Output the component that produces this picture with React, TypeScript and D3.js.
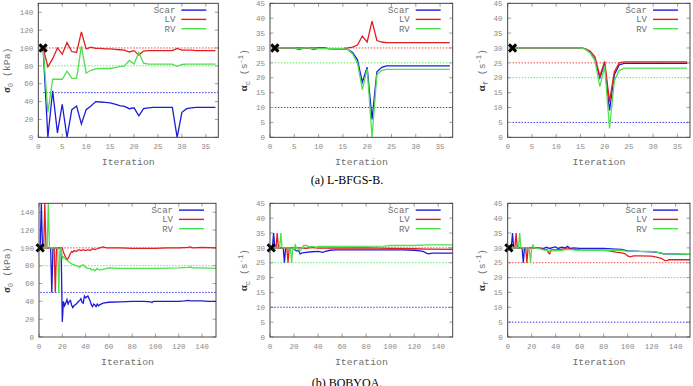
import React from "react";
import * as d3 from "d3";

type Pt = [number, number];

// ---------- L-BFGS-B run (values listed for iterations 1, 2, 3, ...) ----------
const lbfgsSigmaScar = [100, 0, 52, 5, 37, 0, 31, 35, 15, 31, 35, 40, 39.5, 39, 38.5, 37, 35.5, 34.5, 32, 33, 24, 32, 33, 33.5, 33.5, 33.5, 33.5, 33.5, 0, 28, 32, 33, 33.5, 33.5, 33.5, 33.5, 33.5];
const lbfgsSigmaLV = [100, 79, 88, 100, 93, 106, 96, 95, 118, 99, 101, 99.5, 99.5, 99, 99, 98.5, 98, 97.5, 95.5, 97, 92, 96.5, 97, 97, 97, 97, 97, 97, 99.5, 97.5, 97.5, 97.5, 97, 97, 97, 97, 97];
const lbfgsSigmaRV = [100, 28, 65, 65, 65, 74, 66, 66, 102, 72, 75, 76.5, 77, 77, 77, 78, 79, 80, 86, 82, 95, 83, 82, 82, 82, 82, 82, 82, 79.5, 81.5, 82, 82, 82, 82, 82, 82, 82];

const lbfgsAlphaCScar = [30, 30, 30, 30, 30, 29.5, 30, 30, 29.5, 30, 30, 29.8, 29.7, 29.7, 29.7, 29.5, 28.5, 26, 18.5, 23.5, 6, 22, 23.5, 24, 24, 24, 24, 24, 24, 24, 24, 24, 24, 24, 24, 24, 24];
const lbfgsAlphaCLV = [30, 30, 30, 30, 30, 30, 30, 30, 30, 30, 30, 29.8, 29.8, 29.8, 29.8, 30, 30.3, 31, 34, 32, 39, 32.5, 32, 31.8, 31.8, 31.8, 31.8, 31.8, 31.8, 31.8, 31.8, 31.8, 31.8, 31.8, 31.8, 31.8, 31.8];
const lbfgsAlphaCRV = [30, 30, 30, 30, 30, 29.6, 30, 30, 29.6, 29.8, 29.8, 29.8, 29.8, 29.8, 29.8, 29.5, 28, 25, 16, 23, 0, 21, 22.5, 22.8, 22.8, 22.8, 22.8, 22.8, 22.8, 22.8, 22.8, 22.8, 22.8, 22.8, 22.8, 22.8, 22.8];

const lbfgsAlphaFScar = [30, 30, 30, 30, 30, 30, 30, 30, 30, 30, 30, 30, 30, 30, 30, 29.7, 28.5, 26, 20, 24.5, 9, 21, 24.3, 24.8, 24.8, 24.8, 24.8, 24.8, 24.8, 24.8, 24.8, 24.8, 24.8, 24.8, 24.8, 24.8, 24.8];
const lbfgsAlphaFLV = [30, 30, 30, 30, 30, 30, 30, 30, 30, 30, 30, 30, 30, 30, 30, 29.8, 29, 27, 20.5, 25.5, 12, 22, 25, 25.3, 25.3, 25.3, 25.3, 25.3, 25.3, 25.3, 25.3, 25.3, 25.3, 25.3, 25.3, 25.3, 25.3];
const lbfgsAlphaFRV = [30, 30, 30, 30, 30, 30, 30, 30, 30, 30, 30, 30, 30, 30, 30, 29.6, 28.3, 25.8, 17, 24, 3, 19, 22.5, 23.2, 23.2, 23.2, 23.2, 23.2, 23.2, 23.2, 23.2, 23.2, 23.2, 23.2, 23.2, 23.2, 23.2];

// ---------- BOBYQA run ([iteration, value]) ----------
const bobyqaSigmaScar: Pt[] = [[1, 100], [2, 150], [3, 100], [10, 100], [11, 50], [12, 100], [19, 100], [20, 17], [21, 40], [22, 35], [23, 38], [24, 42], [25, 37], [26, 40], [27, 41], [28, 36], [29, 33], [30, 35], [32, 37], [34, 40], [35, 41], [36, 43], [37, 39], [38, 38], [39, 46], [40, 44], [41, 45], [42, 46], [43, 43], [44, 40], [45, 36], [46, 34], [47, 37], [48, 36], [49, 34], [50, 37], [51, 35], [52, 36], [55, 38], [60, 39], [70, 39.5], [80, 40], [90, 40], [96, 39.5], [97, 38.5], [98, 40], [110, 40], [120, 40], [125, 40.5], [128, 41], [130, 40.5], [140, 40.5], [145, 40], [152, 40]];
const bobyqaSigmaLV: Pt[] = [[1, 100], [4, 100], [5, 150], [6, 100], [13, 100], [14, 50], [15, 100], [20, 100], [21, 95], [22, 92], [23, 89], [24, 87], [25, 88], [26, 91], [27, 94], [28, 96], [29, 95], [30, 97], [32, 96], [34, 98], [36, 97], [38, 98], [40, 97], [42, 98], [44, 97], [46, 99], [48, 98], [50, 99], [52, 100], [55, 101], [58, 100], [70, 100], [80, 99.5], [100, 99.5], [110, 100], [120, 100], [128, 100.5], [130, 101], [132, 100], [140, 100.5], [152, 100]];
const bobyqaSigmaRV: Pt[] = [[1, 100], [7, 100], [8, 150], [9, 100], [16, 100], [17, 50], [18, 100], [19, 100], [20, 88], [21, 90], [22, 89], [23, 87], [24, 86], [26, 84], [28, 82], [30, 81], [32, 80], [34, 79], [35, 78], [36, 80], [38, 81], [40, 78], [42, 77], [44, 77], [45, 75], [47, 76], [48, 74], [50, 77], [52, 75], [55, 76], [60, 77.5], [70, 77], [100, 77], [120, 77.5], [128, 78], [130, 78.5], [132, 77.5], [140, 77.5], [152, 77]];

const bobyqaAlphaCScar: Pt[] = [[1, 30], [2, 30], [3, 35], [4, 30], [11, 30], [12, 25], [13, 30], [19, 30], [20, 29.5], [22, 29], [24, 29], [25, 28], [27, 28.3], [30, 28.5], [35, 28.7], [40, 28.8], [44, 28.5], [46, 28.8], [50, 29.2], [55, 29.3], [110, 29.3], [120, 29.2], [125, 29], [128, 28.7], [130, 28.2], [132, 28], [135, 28.2], [152, 28.2]];
const bobyqaAlphaCLV: Pt[] = [[1, 30], [5, 30], [6, 35], [7, 30], [14, 30], [15, 25], [16, 30], [25, 30], [30, 29.8], [35, 30.2], [40, 29.9], [80, 30], [100, 29.8], [120, 29.7], [130, 29.6], [152, 29.5]];
const bobyqaAlphaCRV: Pt[] = [[1, 30], [8, 30], [9, 35], [10, 30], [17, 30], [18, 25], [19, 30], [20, 29.5], [21, 31], [22, 30], [24, 29.5], [25, 29], [26, 29.5], [28, 30.8], [30, 30.8], [33, 30.3], [36, 30.5], [38, 30.2], [40, 30.5], [95, 30.6], [100, 30.8], [120, 30.8], [130, 31], [152, 31]];

const bobyqaAlphaFScar: Pt[] = [[1, 30], [3, 30], [4, 35], [5, 30], [12, 30], [13, 25], [14, 30], [25, 30], [30, 29.8], [32, 30.2], [35, 29.8], [38, 30.2], [40, 30.3], [42, 29.8], [45, 30.2], [48, 30], [50, 30.5], [52, 29.8], [55, 30], [60, 29.8], [80, 29.8], [90, 29.6], [95, 29.5], [100, 29], [110, 28.8], [120, 28.7], [125, 28.5], [130, 28], [135, 28], [152, 27.8]];
const bobyqaAlphaFLV: Pt[] = [[1, 30], [6, 30], [7, 35], [8, 30], [15, 30], [16, 25], [17, 30], [25, 30], [30, 29.5], [33, 29.3], [34, 28.3], [35, 28], [36, 29.3], [40, 29.3], [45, 29.5], [48, 29.8], [50, 30], [52, 29.5], [55, 29.5], [60, 29.3], [80, 29.2], [85, 29], [90, 28.6], [95, 28.3], [98, 28], [100, 27.3], [102, 27], [105, 27.3], [110, 27.3], [120, 27.2], [125, 26.8], [128, 26.5], [130, 26], [131, 25.7], [133, 25.8], [135, 26], [152, 26]];
const bobyqaAlphaFRV: Pt[] = [[1, 30], [9, 30], [10, 35], [11, 30], [18, 30], [19, 25], [20, 30], [21, 31], [22, 30], [25, 29.8], [30, 29.3], [35, 29], [40, 29], [45, 29.2], [50, 29.5], [55, 29.3], [60, 29.2], [95, 29.2], [100, 28.8], [120, 28.8], [128, 28.3], [130, 28], [135, 28], [152, 27.8]];

// Reference (true) parameter values per region: [Scar, LV, RV]
const sigmaTargets = [50, 100, 80];
const alphaCTargets = [10, 30, 25];
const alphaFTargets = [5, 25, 20];

const seriesNames = ["Scar", "LV", "RV"];
const sigmaTicks = [0, 20, 40, 60, 80, 100, 120, 140];
const alphaTicks = [0, 5, 10, 15, 20, 25, 30, 35, 40, 45];
const lbfgsIterTicks = [0, 5, 10, 15, 20, 25, 30, 35];
const bobyqaIterTicks = [0, 20, 40, 60, 80, 100, 120, 140];
const captions = ["(a) L-BFGS-B.", "(b) BOBYQA."];

const indexed = (vals: number[]): Pt[] => vals.map((v, i) => [i + 1, v] as Pt);

const MONO = "'Liberation Mono', 'DejaVu Sans Mono', monospace";
const SERIF = "'Liberation Serif', 'DejaVu Serif', serif";
const GRAY = "#8a8a8a";
const LABEL = "#707070";
const LINE_COLORS = ["#1c1cd8", "#e02020", "#4ee04e"];
const DOT_COLORS = ["#3c3cf0", "#f04848", "#60ea60"];

type Box = { left: number; right: number; top: number; bottom: number };

type PanelProps = {
  id: string;
  box: Box;
  xMax: number;
  yMax: number;
  xTicks: number[];
  yTicks: number[];
  series: Pt[][];
  targets: number[];
  marker: Pt;
  labelX: number;
  yLabel: React.ReactNode;
};

function Panel({ id, box, xMax, yMax, xTicks, yTicks, series, targets, marker, labelX, yLabel }: PanelProps) {
  const x = d3.scaleLinear().domain([0, xMax]).range([box.left, box.right]);
  const y = d3.scaleLinear().domain([0, yMax]).range([box.bottom, box.top]);
  const line = d3.line<Pt>().x((d) => x(d[0])).y((d) => y(d[1]));
  const tk = 3.5;
  const midY = (box.top + box.bottom) / 2;
  const m = 3.6;
  return (
    <g>
      <defs>
        <clipPath id={id}>
          <rect x={box.left} y={box.top} width={box.right - box.left} height={box.bottom - box.top} />
        </clipPath>
      </defs>
      {/* ticks, inward on all sides */}
      {xTicks.map((t) => (
        <g key={"x" + t}>
          <line x1={x(t)} x2={x(t)} y1={box.bottom} y2={box.bottom - tk} stroke={GRAY} strokeWidth={0.8} />
          <line x1={x(t)} x2={x(t)} y1={box.top} y2={box.top + tk} stroke={GRAY} strokeWidth={0.8} />
          <text x={x(t)} y={box.bottom + 11.5} textAnchor="middle" fontFamily={MONO} fontSize={7.6} fill={GRAY}>
            {t}
          </text>
        </g>
      ))}
      {yTicks.map((t) => (
        <g key={"y" + t}>
          <line x1={box.left} x2={box.left + tk} y1={y(t)} y2={y(t)} stroke={GRAY} strokeWidth={0.8} />
          <line x1={box.right} x2={box.right - tk} y1={y(t)} y2={y(t)} stroke={GRAY} strokeWidth={0.8} />
          <text x={box.left - 5} y={y(t) + 2.7} textAnchor="end" fontFamily={MONO} fontSize={7.6} fill={GRAY}>
            {t}
          </text>
        </g>
      ))}
      {/* target values */}
      <g clipPath={`url(#${id})`}>
        {targets.map((t, i) => (
          <line key={"t" + i} x1={x(1)} x2={box.right} y1={y(t)} y2={y(t)} stroke={DOT_COLORS[i]} strokeWidth={1} strokeDasharray="1.5,1.5" />
        ))}
        {series.map((s, i) => (
          <path key={"s" + i} d={line(s) || ""} fill="none" stroke={LINE_COLORS[i]} strokeWidth={1.3} strokeLinejoin="miter" />
        ))}
      </g>
      {/* starting point */}
      <g stroke="#000" strokeWidth={3} strokeLinecap="butt">
        <line x1={x(marker[0]) - m} y1={y(marker[1]) - m} x2={x(marker[0]) + m} y2={y(marker[1]) + m} />
        <line x1={x(marker[0]) - m} y1={y(marker[1]) + m} x2={x(marker[0]) + m} y2={y(marker[1]) - m} />
      </g>
      <rect x={box.left} y={box.top} width={box.right - box.left} height={box.bottom - box.top} fill="none" stroke="#333" strokeWidth={0.9} />
      {/* legend */}
      {seriesNames.map((n, i) => {
        const ly = box.top + 6.8 + i * 9.3;
        return (
          <g key={n}>
            <text x={box.right - 43} y={ly + 3} textAnchor="end" fontFamily={MONO} fontSize={9} fill={LABEL}>
              {n}
            </text>
            <line x1={box.right - 37} x2={box.right - 12} y1={ly} y2={ly} stroke={LINE_COLORS[i]} strokeWidth={1.4} />
          </g>
        );
      })}
      <text x={(box.left + box.right) / 2} y={box.bottom + 28} textAnchor="middle" fontFamily={MONO} fontSize={9.8} fill={LABEL}>
        Iteration
      </text>
      <text transform={`translate(${labelX},${midY}) rotate(-90)`} textAnchor="middle" fontFamily={MONO} fontSize={9.8} fill={LABEL}>
        {yLabel}
      </text>
    </g>
  );
}

const sigmaLabel = (
  <>
    <tspan fontFamily={SERIF} fontWeight="bold" fontSize={11} fill="#333">σ</tspan>
    <tspan fontSize={7} dy={2.5}>0</tspan>
    <tspan dy={-2.5}> (kPa)</tspan>
  </>
);
const alphaLabel = (sub: string) => (
  <>
    <tspan fontFamily={SERIF} fontWeight="bold" fontSize={11} fill="#333">α</tspan>
    <tspan fontSize={7} dy={2.5}>{sub}</tspan>
    <tspan dy={-2.5}> (s</tspan>
    <tspan fontSize={7} dy={-4}>-1</tspan>
    <tspan dy={4}>)</tspan>
  </>
);

export default function App() {
  const topBox = (l: number, r: number): Box => ({ left: l, right: r, top: 3.3, bottom: 137.3 });
  const botBox = (l: number, r: number): Box => ({ left: l, right: r, top: 203.3, bottom: 337 });
  const lbX = 37.6;
  const bbX = 152;
  return (
    <svg width={693} height={386} style={{ position: "absolute", left: 0, top: 0, background: "#fff" }}>
      <rect width={693} height={386} fill="#fff" />
      <Panel id="c1" box={topBox(38.3, 218.3)} xMax={lbX} yMax={150} xTicks={lbfgsIterTicks} yTicks={sigmaTicks}
        series={[indexed(lbfgsSigmaScar), indexed(lbfgsSigmaLV), indexed(lbfgsSigmaRV)]} targets={sigmaTargets}
        marker={[1, 100]} labelX={10} yLabel={sigmaLabel} />
      <Panel id="c2" box={topBox(270, 452.7)} xMax={lbX} yMax={45} xTicks={lbfgsIterTicks} yTicks={alphaTicks}
        series={[indexed(lbfgsAlphaCScar), indexed(lbfgsAlphaCLV), indexed(lbfgsAlphaCRV)]} targets={alphaCTargets}
        marker={[1, 30]} labelX={247} yLabel={alphaLabel("c")} />
      <Panel id="c3" box={topBox(507.7, 690)} xMax={lbX} yMax={45} xTicks={lbfgsIterTicks} yTicks={alphaTicks}
        series={[indexed(lbfgsAlphaFScar), indexed(lbfgsAlphaFLV), indexed(lbfgsAlphaFRV)]} targets={alphaFTargets}
        marker={[1, 30]} labelX={485} yLabel={alphaLabel("f")} />
      <Panel id="c4" box={botBox(39, 216)} xMax={bbX} yMax={150} xTicks={bobyqaIterTicks} yTicks={sigmaTicks}
        series={[bobyqaSigmaScar, bobyqaSigmaLV, bobyqaSigmaRV]} targets={sigmaTargets}
        marker={[1, 100]} labelX={10} yLabel={sigmaLabel} />
      <Panel id="c5" box={botBox(270, 452.7)} xMax={bbX} yMax={45} xTicks={bobyqaIterTicks} yTicks={alphaTicks}
        series={[bobyqaAlphaCScar, bobyqaAlphaCLV, bobyqaAlphaCRV]} targets={alphaCTargets}
        marker={[1, 30]} labelX={247} yLabel={alphaLabel("c")} />
      <Panel id="c6" box={botBox(507.7, 690)} xMax={bbX} yMax={45} xTicks={bobyqaIterTicks} yTicks={alphaTicks}
        series={[bobyqaAlphaFScar, bobyqaAlphaFLV, bobyqaAlphaFRV]} targets={alphaFTargets}
        marker={[1, 30]} labelX={485} yLabel={alphaLabel("f")} />
      <text x={347} y={184} textAnchor="middle" fontFamily={SERIF} fontSize={12} fill="#000">{captions[0]}</text>
      <text x={347} y={387} textAnchor="middle" fontFamily={SERIF} fontSize={12} fill="#000">{captions[1]}</text>
    </svg>
  );
}
